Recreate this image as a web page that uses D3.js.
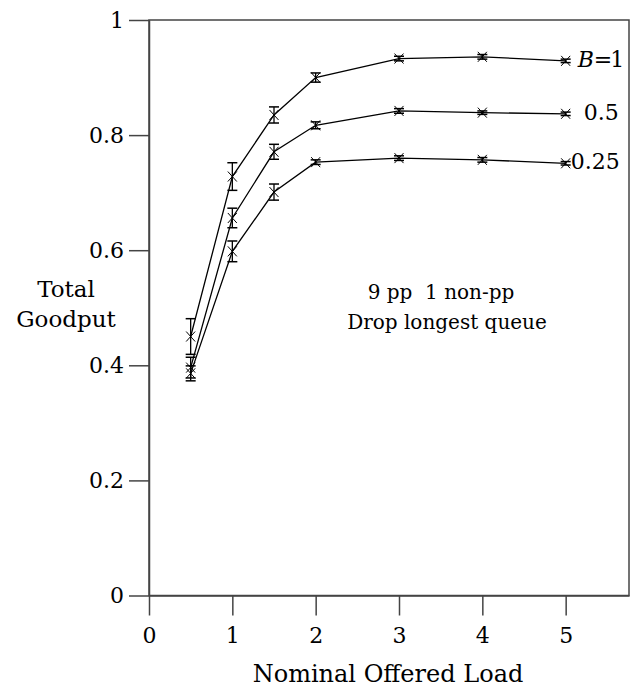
<!DOCTYPE html>
<html>
<head>
<meta charset="utf-8">
<script src="https://cdn.jsdelivr.net/npm/d3@7"></script>
<style>
  body { margin: 0; background: #fff; }
  text { font-family: 'DejaVu Serif', serif; fill: #000; }
</style>
</head>
<body>
<div id="chart-area"></div>
<script>
// data
var loads = [0.5, 1, 1.5, 2, 3, 4, 5];
var goodputB1 = [0.450, 0.728, 0.835, 0.900, 0.933, 0.936, 0.929];
var errB1 = [0.031, 0.024, 0.014, 0.008, 0.004, 0.004, 0.003];
var goodputB05 = [0.396, 0.656, 0.771, 0.817, 0.842, 0.839, 0.837];
var errB05 = [0.018, 0.017, 0.013, 0.006, 0.004, 0.003, 0.003];
var goodputB025 = [0.386, 0.598, 0.701, 0.753, 0.760, 0.757, 0.751];
var errB025 = [0.013, 0.018, 0.014, 0.004, 0.004, 0.004, 0.003];
var seriesNames = ['1', '0.5', '0.25'];

var xTicks = [0, 1, 2, 3, 4, 5];
var xTickLabels = ['0', '1', '2', '3', '4', '5'];
var yTicks = [0, 0.2, 0.4, 0.6, 0.8, 1];
var yTickLabels = ['0', '0.2', '0.4', '0.6', '0.8', '1'];

var series = [
  {name: seriesNames[0], values: goodputB1, err: errB1, dx: 12},
  {name: seriesNames[1], values: goodputB05, err: errB05, dx: 18},
  {name: seriesNames[2], values: goodputB025, err: errB025, dx: 5}
];

// margins
var margin = {left: 149, right: 10, top: 20, bottom: 94.5};
var width = 639 - margin.left - margin.right;
var height = 690 - margin.top - margin.bottom;

var svg = d3.select('#chart-area')
  .append('svg')
  .attr('width', 639)
  .attr('height', 690);

var g = svg.append('g')
  .attr('transform', 'translate(' + margin.left + ', ' + margin.top + ')');

var x = d3.scaleLinear()
  .domain([0, 5.76])
  .range([0, width]);

var y = d3.scaleLinear()
  .domain([0, 1])
  .range([height, 0]);

// frame
g.append('rect')
  .attr('x', 0)
  .attr('y', 0)
  .attr('width', width)
  .attr('height', height)
  .attr('fill', 'none')
  .attr('stroke', '#444')
  .attr('stroke-width', 1.5);

// axes
var xAxisCall = d3.axisBottom(x)
  .tickValues(xTicks)
  .tickSize(20)
  .tickSizeOuter(0)
  .tickPadding(12)
  .tickFormat(function (d, i) { return xTickLabels[i]; });
var xAxis = g.append('g')
  .attr('class', 'x-axis')
  .attr('transform', 'translate(0, ' + height + ')')
  .call(xAxisCall);

var yAxisCall = d3.axisLeft(y)
  .tickValues(yTicks)
  .tickSize(20)
  .tickSizeOuter(0)
  .tickPadding(5)
  .tickFormat(function (d, i) { return yTickLabels[i]; });
var yAxis = g.append('g')
  .attr('class', 'y-axis')
  .call(yAxisCall);

[xAxis, yAxis].forEach(function (a) {
  a.selectAll('path, line').attr('stroke', '#444').attr('stroke-width', 1.5);
  a.selectAll('text')
    .attr('font-family', 'DejaVu Serif')
    .attr('font-size', '22px')
    .attr('fill', '#000');
});

// lines
var line = d3.line()
  .x(function (d, i) { return x(loads[i]); })
  .y(function (d) { return y(d); });

series.forEach(function (s) {
  var sg = g.append('g');

  sg.append('path')
    .datum(s.values)
    .attr('d', line)
    .attr('fill', 'none')
    .attr('stroke', '#000')
    .attr('stroke-width', 1.3);

  var pts = sg.selectAll('.pt')
    .data(s.values)
    .enter()
    .append('g')
    .attr('class', 'pt');

  // error bar
  pts.append('line')
    .attr('x1', function (d, i) { return x(loads[i]); })
    .attr('x2', function (d, i) { return x(loads[i]); })
    .attr('y1', function (d, i) { return y(d + s.err[i]); })
    .attr('y2', function (d, i) { return y(d - s.err[i]); })
    .attr('stroke', '#000')
    .attr('stroke-width', 1.3);
  [1, -1].forEach(function (sign) {
    pts.append('line')
      .attr('x1', function (d, i) { return x(loads[i]) - 5; })
      .attr('x2', function (d, i) { return x(loads[i]) + 5; })
      .attr('y1', function (d, i) { return y(d + sign * s.err[i]); })
      .attr('y2', function (d, i) { return y(d + sign * s.err[i]); })
      .attr('stroke', '#000')
      .attr('stroke-width', 1.5);
  });

  // x markers
  [1, -1].forEach(function (sign) {
    pts.append('line')
      .attr('x1', function (d, i) { return x(loads[i]) - 4.5; })
      .attr('x2', function (d, i) { return x(loads[i]) + 4.5; })
      .attr('y1', function (d) { return y(d) - 5 * sign; })
      .attr('y2', function (d) { return y(d) + 5 * sign; })
      .attr('stroke', '#000')
      .attr('stroke-width', 1);
  });

  // series label at the end
  var last = s.values.length - 1;
  var lbl = g.append('text')
    .attr('x', x(loads[last]) + s.dx)
    .attr('y', y(s.values[last]) - 2)
    .attr('dy', '0.35em')
    .attr('font-size', '22px');
  if (s.name === '1') {
    lbl.append('tspan').attr('font-style', 'italic').text('B');
    lbl.append('tspan').attr('letter-spacing', '-2px').text('=');
    lbl.append('tspan').text('1');
  } else {
    lbl.text(s.name);
  }
});

// annotation
g.append('text')
  .attr('x', 441 - margin.left)
  .attr('y', 299 - margin.top)
  .attr('text-anchor', 'middle')
  .attr('font-size', '20px')
  .text('9 pp\u00a0\u00a01 non-pp');
g.append('text')
  .attr('x', 447 - margin.left)
  .attr('y', 329 - margin.top)
  .attr('text-anchor', 'middle')
  .attr('font-size', '20px')
  .text('Drop longest queue');

// X label
svg.append('text')
  .attr('class', 'x axis-label')
  .attr('x', 388)
  .attr('y', 682)
  .attr('font-size', '24px')
  .attr('text-anchor', 'middle')
  .text('Nominal Offered Load');

// Y label
svg.append('text')
  .attr('class', 'y axis-label')
  .attr('x', 66)
  .attr('y', 297)
  .attr('font-size', '23px')
  .attr('text-anchor', 'middle')
  .text('Total');
svg.append('text')
  .attr('class', 'y axis-label')
  .attr('x', 66)
  .attr('y', 327)
  .attr('font-size', '23px')
  .attr('text-anchor', 'middle')
  .text('Goodput');
</script>
</body>
</html>
